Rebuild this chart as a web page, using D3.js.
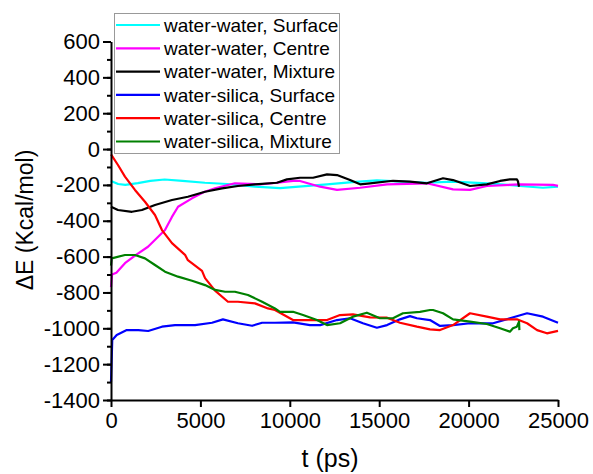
<!DOCTYPE html>
<html>
<head>
<meta charset="utf-8">
<script src="https://cdn.jsdelivr.net/npm/d3@7"></script>
<style>
  body { margin: 0; background: #fff; }
  svg { font-family: "Liberation Sans", Arial, sans-serif; }
</style>
</head>
<body>
<div id="chart"></div>
<script>
// series: [t (ps), dE (kcal/mol)]
const wwSurface = [[0,-178],[400,-195],[800,-200],[1500,-190],[2200,-178],[3000,-170],[4000,-178],[5250,-188],[6500,-195],[8050,-210],[9450,-218],[10500,-210],[12080,-197],[13500,-185],[14870,-175],[16000,-180],[17670,-188],[19130,-182],[21020,-191],[22000,-198],[22870,-206],[24160,-216],[25000,-210]];
const wwCentre = [[0,-770],[60,-700],[300,-690],[780,-637],[1400,-590],[2070,-545],[3020,-452],[3400,-380],[3750,-322],[4530,-275],[5200,-240],[5820,-219],[6930,-191],[8330,-197],[9300,-188],[10180,-178],[10570,-178],[11690,-210],[12640,-228],[13930,-216],[15440,-197],[17670,-191],[19130,-225],[20080,-228],[21020,-206],[22870,-197],[24720,-200],[25000,-205]];
const wwMixture = [[0,-322],[390,-340],[1170,-350],[1730,-340],[2460,-312],[3410,-284],[4300,-266],[5260,-238],[6210,-219],[7100,-206],[8050,-197],[9280,-188],[9840,-169],[10570,-160],[11300,-160],[12080,-141],[12640,-145],[13370,-173],[13930,-197],[14490,-191],[15770,-177],[16720,-182],[17670,-191],[18570,-163],[19130,-173],[20080,-206],[21020,-197],[21760,-178],[22310,-169],[22700,-169],[22760,-180],[22820,-210]];
const wsSurface = [[0,-1300],[30,-1200],[70,-1065],[320,-1037],[880,-1010],[1530,-1010],[2080,-1015],[2850,-991],[3580,-982],[4700,-982],[5650,-969],[6260,-950],[7100,-972],[7890,-986],[8450,-969],[9170,-969],[10180,-967],[11130,-982],[11700,-982],[12640,-954],[13370,-944],[14090,-972],[14870,-997],[15440,-982],[16160,-950],[16720,-932],[17110,-944],[17840,-954],[18400,-987],[19130,-982],[20080,-972],[21370,-972],[22310,-944],[23270,-916],[24160,-935],[25000,-969]];
const wsCentre = [[0,-30],[390,-89],[780,-154],[1340,-228],[1900,-294],[2460,-368],[2850,-452],[3410,-525],[4140,-590],[4300,-620],[5090,-680],[5260,-720],[5820,-790],[6540,-852],[7100,-852],[8050,-861],[8780,-889],[9170,-898],[10180,-954],[11130,-954],[12080,-954],[12810,-926],[13530,-922],[14490,-939],[15440,-941],[16160,-969],[17110,-991],[17840,-1006],[18400,-1010],[19130,-982],[20080,-916],[21020,-935],[21760,-950],[22700,-950],[23270,-972],[23830,-1010],[24380,-1028],[25000,-1014]];
const wsMixture = [[0,-650],[40,-610],[780,-591],[1340,-591],[1900,-610],[2460,-647],[3020,-684],[3750,-712],[4530,-735],[5260,-759],[5820,-786],[6380,-796],[6930,-796],[7660,-814],[8450,-852],[9170,-889],[9450,-908],[10180,-908],[10740,-926],[11520,-954],[12080,-982],[12810,-972],[13530,-935],[14310,-913],[15040,-944],[15770,-944],[16330,-916],[17280,-908],[17840,-898],[18010,-898],[18570,-916],[19130,-950],[20080,-963],[21020,-976],[21760,-1000],[22310,-1019],[22480,-1000],[22700,-991],[22820,-963],[22840,-1010]];

const seriesNames = ['water-water, Surface', 'water-water, Centre', 'water-water, Mixture',
  'water-silica, Surface', 'water-silica, Centre', 'water-silica, Mixture'];
const seriesData = [wwSurface, wwCentre, wwMixture, wsSurface, wsCentre, wsMixture];
const seriesColors = ['#00ffff', '#ff00ff', '#000000', '#0000ff', '#ff0000', '#008000'];

const xTicks = [0, 5000, 10000, 15000, 20000, 25000];
const yTicks = [-1400, -1200, -1000, -800, -600, -400, -200, 0, 200, 400, 600];

const width = 593, height = 474;
const svg = d3.select('#chart').append('svg')
  .attr('width', width)
  .attr('height', height);

const x = d3.scaleLinear().domain([0, 25000]).range([111, 558]);
const y = d3.scaleLinear().domain([-1400, 600]).range([400, 41.5]);

// lines
const line = d3.line()
  .x(d => x(d[0]))
  .y(d => y(d[1]));

svg.append('g').selectAll('path')
  .data(seriesData)
  .enter()
  .append('path')
  .attr('fill', 'none')
  .attr('stroke', (d, i) => seriesColors[i])
  .attr('stroke-width', 2.2)
  .attr('stroke-linejoin', 'round')
  .attr('d', line);

// axes
const plain = d => String(d);

const yMinor = d3.range(-1400, 601, 100);
svg.append('g')
  .attr('transform', 'translate(111,0)')
  .call(d3.axisLeft(y).tickValues(yMinor).tickSize(4).tickFormat(''))
  .call(g => g.selectAll('line').attr('stroke-width', 2))
  .call(g => g.select('.domain').remove());

const yAxis = svg.append('g')
  .attr('transform', 'translate(111,0)')
  .call(d3.axisLeft(y).tickValues(yTicks).tickSize(8).tickSizeOuter(0).tickPadding(3).tickFormat(plain));
yAxis.selectAll('line').attr('stroke-width', 2);
yAxis.select('.domain').attr('stroke-width', 2);
yAxis.selectAll('text')
  .style('font-family', '"Liberation Sans", Arial, sans-serif')
  .style('font-size', '22px')
  .attr('fill', '#000');

const xAxis = svg.append('g')
  .attr('transform', 'translate(0,400)')
  .call(d3.axisBottom(x).tickValues(xTicks).tickSize(7).tickSizeOuter(0).tickPadding(5).tickFormat(plain));
xAxis.selectAll('line').attr('stroke-width', 2);
xAxis.select('.domain').attr('stroke-width', 2);
xAxis.selectAll('text')
  .style('font-family', '"Liberation Sans", Arial, sans-serif')
  .style('font-size', '22px')
  .attr('fill', '#000');

// titles
svg.append('text')
  .attr('x', 330)
  .attr('y', 467)
  .attr('text-anchor', 'middle')
  .style('font-size', '25px')
  .text('t (ps)');

svg.append('text')
  .attr('transform', 'translate(33,220) rotate(-90)')
  .attr('text-anchor', 'middle')
  .style('font-size', '23px')
  .text('\u0394E (Kcal/mol)');

// legend
const legend = svg.append('g');
legend.append('rect')
  .attr('x', 114.5).attr('y', 13.5)
  .attr('width', 225).attr('height', 140)
  .attr('fill', '#fff')
  .attr('stroke', '#999')
  .attr('stroke-width', 1);

const rows = legend.selectAll('g.row')
  .data(seriesNames)
  .enter()
  .append('g')
  .attr('class', 'row')
  .attr('transform', (d, i) => 'translate(0,' + (25 + i * 23.3) + ')');

rows.append('line')
  .attr('x1', 116).attr('x2', 160)
  .attr('stroke', (d, i) => seriesColors[i])
  .attr('stroke-width', 2.2);

rows.append('text')
  .attr('x', 164)
  .attr('dy', '0.35em')
  .style('font-size', '19px')
  .text(d => d);
</script>
</body>
</html>
